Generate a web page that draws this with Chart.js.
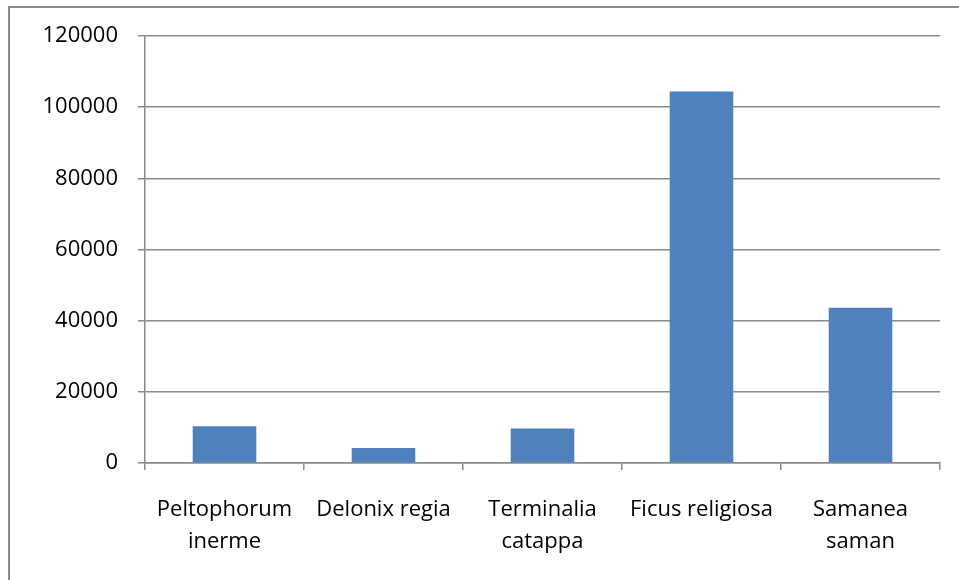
<!DOCTYPE html>
<html>
<head>
<meta charset="utf-8">
<script src="https://cdn.jsdelivr.net/npm/chart.js@4.4.0/dist/chart.umd.min.js"></script>
<style>
  html, body { margin: 0; padding: 0; background: #ffffff; }
  #wrap { position: relative; width: 959px; height: 580px; overflow: hidden; }
  #frame { position: absolute; left: 8px; top: 6px; width: 1000px; height: 1000px;
           border-left: 2px solid #8c8c8c; border-top: 2px solid #8c8c8c; box-sizing: border-box; }
  canvas { position: absolute; left: 0; top: 0; }
</style>
</head>
<body>
<div id="wrap">
  <div id="frame"></div>
  <canvas id="c" width="959" height="580"></canvas>
</div>
<script>
const categories = [["Peltophorum", "inerme"], "Delonix regia", ["Terminalia", "catappa"], "Ficus religiosa", ["Samanea", "saman"]];
const values = [10300, 4200, 9700, 104400, 43600];
const yTicks = [0, 20000, 40000, 60000, 80000, 100000, 120000];

const gridColor = '#8a8a8a';
const fontFamily = "'Open Sans', sans-serif";

new Chart(document.getElementById('c'), {
  type: 'bar',
  data: {
    labels: categories,
    datasets: [{
      data: values,
      backgroundColor: '#4F81BD',
      borderWidth: 0,
      barPercentage: 0.4,
      categoryPercentage: 1.0
    }]
  },
  options: {
    responsive: false,
    animation: false,
    devicePixelRatio: 1,
    layout: { padding: { left: 0, right: 19, top: 36, bottom: 0 } },
    plugins: { legend: { display: false }, tooltip: { enabled: false } },
    scales: {
      x: {
        grid: { display: true, drawOnChartArea: false, drawTicks: true, tickLength: 7, color: gridColor, lineWidth: 1.5, offset: true },
        border: { display: true, color: gridColor, width: 1.5 },
        ticks: { color: '#000', font: { family: fontFamily, size: 22, lineHeight: 1.45 }, padding: 24, maxRotation: 0, autoSkip: false },
        afterFit: (s) => { s.height = 117; }
      },
      y: {
        min: 0, max: 120000,
        afterBuildTicks: (s) => { s.ticks = yTicks.map(v => ({ value: v })); },
        grid: { color: gridColor, lineWidth: 1.5, tickLength: 7 },
        border: { display: true, color: gridColor, width: 1.5 },
        ticks: { color: '#000', font: { family: fontFamily, size: 22 }, padding: 20, callback: (v) => String(v) },
        afterFit: (s) => { s.width = 145; }
      }
    }
  }
});
</script>
</body>
</html>
